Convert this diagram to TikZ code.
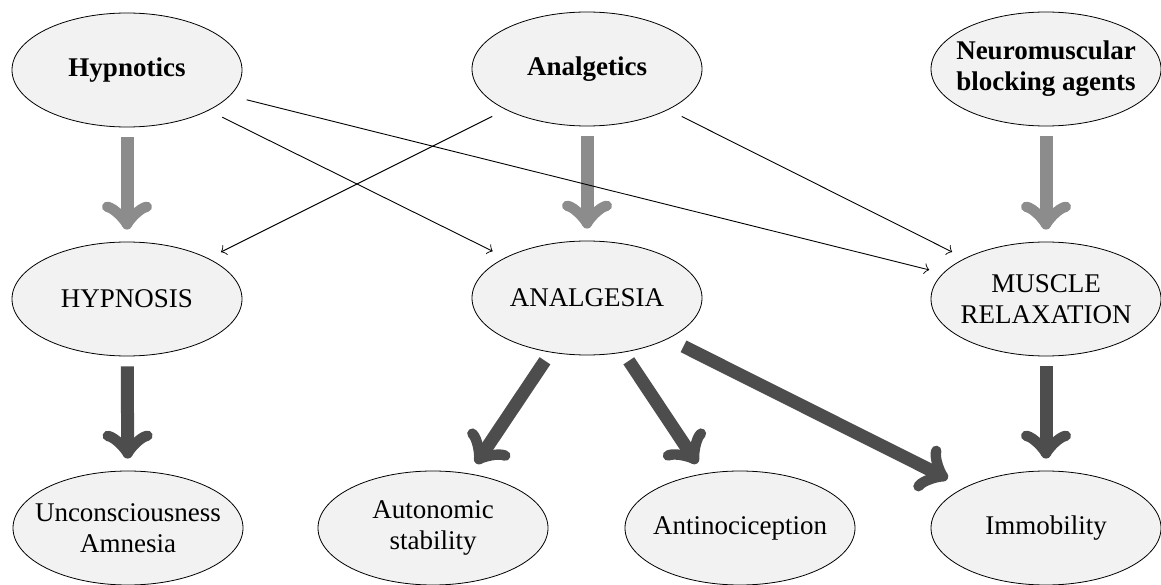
\documentclass[tikz,border=0pt]{standalone}
\usepackage{fontspec}
\setmainfont{Liberation Serif}
\usetikzlibrary{shapes.geometric,arrows.meta}
\definecolor{lightarrow}{HTML}{8C8C8C}
\definecolor{darkarrow}{HTML}{4D4D4D}
\definecolor{ellfill}{HTML}{F2F2F2}
\begin{document}
\begin{tikzpicture}[x=1pt,y=-1pt,
  oval/.style={ellipse,draw=black,line width=0.8pt,fill=ellfill,minimum width=230pt,minimum height=114pt,inner sep=0pt},
  txt/.style={align=center,font=\fontsize{27}{31}\selectfont,inner sep=0pt},
  bigtip/.style={-{Classical TikZ Rightarrow[length=28pt,width=50pt,round]}},
  lightarr/.style={draw=lightarrow,line width=13pt,bigtip,shorten <=10pt,shorten >=12pt},
  darkarr/.style={draw=darkarrow,line width=13pt,bigtip,shorten <=10pt,shorten >=12pt},
  thinarr/.style={draw=black,line width=0.9pt,-{Classical TikZ Rightarrow[length=5pt,width=11pt]},shorten <=15pt,shorten >=14pt}
]
\useasboundingbox (0,0) rectangle (1161,585);

% top row
\node[oval,label={[txt]center:\textbf{Hypnotics}}] (hyp) at (127,70) {};
\node[oval,label={[txt]center:\textbf{Analgetics}}] (ana) at (587,69) {};
\node[oval,label={[txt]center:\textbf{Neuromuscular}\\\textbf{blocking agents}}] (nmb) at (1046,69) {};

% middle row
\node[oval,label={[txt]center:HYPNOSIS}] (hypn) at (127,299) {};
\node[oval,label={[txt]center:ANALGESIA}] (analg) at (587,298) {};
\node[oval,label={[txt]center:MUSCLE\\RELAXATION}] (mus) at (1046,299) {};

% bottom row
\node[oval,label={[txt]center:Unconsciousness\\Amnesia}] (unc) at (128,528) {};
\node[oval,label={[txt]center:Autonomic\\stability}] (aut) at (433,528) {};
\node[oval,label={[txt]center:Antinociception}] (anti) at (740,528) {};
\node[oval,label={[txt]center:Immobility}] (imm) at (1046,528) {};

% thick gray arrows
\draw[lightarr] (hyp) -- (hypn);
\draw[lightarr] (ana) -- (analg);
\draw[lightarr] (nmb) -- (mus);

% thick dark arrows
\draw[darkarr] (hypn) -- (unc);
\draw[darkarr] (analg) -- (aut);
\draw[darkarr] (analg) -- (anti);
\draw[darkarr,shorten <=17pt,shorten >=19pt] (analg) -- (imm);
\draw[darkarr] (mus) -- (imm);

% thin arrows
\draw[thinarr] (hyp) -- (analg);
\draw[thinarr,shorten <=17pt] (hyp) -- (mus);
\draw[thinarr] (ana) -- (hypn);
\draw[thinarr] (ana) -- (mus);
\end{tikzpicture}
\end{document}
